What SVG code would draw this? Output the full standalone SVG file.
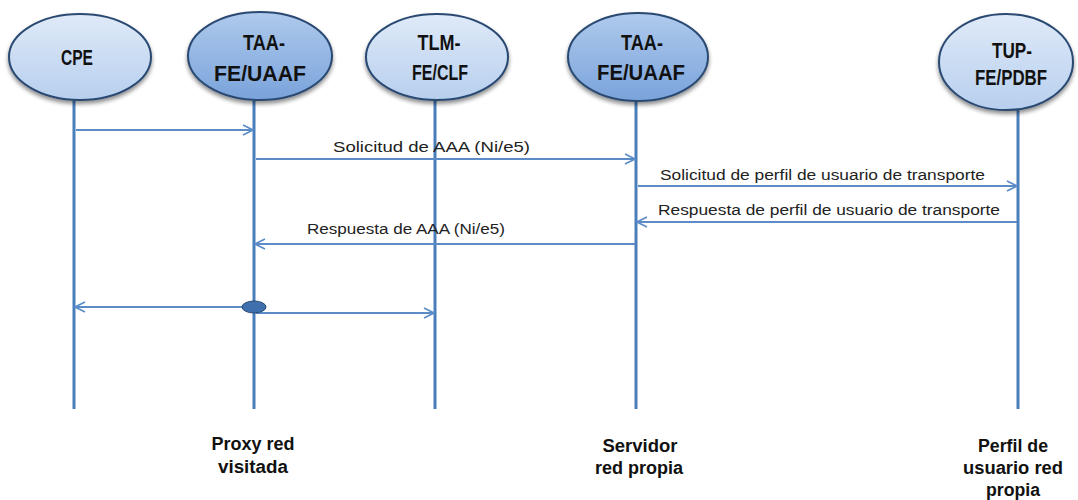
<svg xmlns="http://www.w3.org/2000/svg" width="1078" height="500" viewBox="0 0 1078 500">
<defs>
  <linearGradient id="gLight" x1="0" y1="0" x2="0" y2="1">
    <stop offset="0" stop-color="#dfeaf8"/>
    <stop offset="1" stop-color="#b7cfee"/>
  </linearGradient>
  <linearGradient id="gDark" x1="0" y1="0" x2="0" y2="1">
    <stop offset="0" stop-color="#afcaec"/>
    <stop offset="1" stop-color="#7aa3db"/>
  </linearGradient>
  <filter id="sh" x="-20%" y="-20%" width="140%" height="150%">
    <feGaussianBlur in="SourceAlpha" stdDeviation="2"/>
    <feOffset dx="0" dy="3" result="b"/>
    <feComponentTransfer><feFuncA type="linear" slope="0.45"/></feComponentTransfer>
    <feMerge><feMergeNode/><feMergeNode in="SourceGraphic"/></feMerge>
  </filter>
  <marker id="arr" viewBox="0 0 12 12" refX="11" refY="6" markerWidth="12" markerHeight="12" markerUnits="userSpaceOnUse" orient="auto">
    <path d="M1,1 L11,6 L1,11" fill="none" stroke="#5b8cc8" stroke-width="1.6"/>
  </marker>
</defs>
<style>
  .life { stroke: #4a7ebb; stroke-width: 3; fill: none; }
  .msg { stroke: #5b8cc8; stroke-width: 1.8; fill: none; marker-end: url(#arr); }
  .light { fill: url(#gLight); stroke: #2b4a72; stroke-width: 2; filter: url(#sh); }
  .dark { fill: url(#gDark); stroke: #2b4a72; stroke-width: 2; filter: url(#sh); }
  .nt { font-family: "Liberation Sans", Arial, sans-serif; font-weight: bold; font-size: 22px; fill: #111; text-anchor: middle; }
  .lbl { font-family: "Liberation Sans", Arial, sans-serif; font-size: 14px; fill: #222; }
  .bt { font-family: "Liberation Sans", Arial, sans-serif; font-weight: bold; font-size: 18px; fill: #111; text-anchor: middle; }
</style>

<g id="lifelines">
  <line class="life" x1="74" y1="100" x2="74" y2="409"/>
  <line class="life" x1="254" y1="100" x2="254" y2="409"/>
  <line class="life" x1="435" y1="100" x2="435" y2="409"/>
  <line class="life" x1="636" y1="100" x2="636" y2="409"/>
  <line class="life" x1="1018" y1="108" x2="1018" y2="409"/>
</g>

<g id="node-cpe">
  <ellipse class="light" cx="80" cy="57" rx="71" ry="43"/>
  <text class="nt" x="77" y="65" textLength="32" lengthAdjust="spacingAndGlyphs">CPE</text>
</g>
<g id="node-taa1">
  <ellipse class="dark" cx="260" cy="56" rx="72" ry="44"/>
  <text class="nt" x="264" y="50" textLength="42" lengthAdjust="spacingAndGlyphs">TAA-</text>
  <text class="nt" x="260" y="81" textLength="92" lengthAdjust="spacingAndGlyphs">FE/UAAF</text>
</g>
<g id="node-tlm">
  <ellipse class="light" cx="437" cy="57" rx="71" ry="43"/>
  <text class="nt" x="439" y="50" textLength="43" lengthAdjust="spacingAndGlyphs">TLM-</text>
  <text class="nt" x="440" y="80" textLength="56" lengthAdjust="spacingAndGlyphs">FE/CLF</text>
</g>
<g id="node-taa2">
  <ellipse class="dark" cx="638" cy="57" rx="70" ry="44"/>
  <text class="nt" x="642" y="50" textLength="42" lengthAdjust="spacingAndGlyphs">TAA-</text>
  <text class="nt" x="641" y="80" textLength="88" lengthAdjust="spacingAndGlyphs">FE/UAAF</text>
</g>
<g id="node-tup">
  <ellipse class="light" cx="1006" cy="62" rx="67" ry="48"/>
  <text class="nt" x="1012" y="58" textLength="40" lengthAdjust="spacingAndGlyphs">TUP-</text>
  <text class="nt" x="1011" y="85" textLength="72" lengthAdjust="spacingAndGlyphs">FE/PDBF</text>
</g>

<g id="connectors">
  <line class="msg" x1="76" y1="130" x2="253" y2="130"/>
  <line class="msg" x1="256" y1="159" x2="635" y2="159"/>
  <line class="msg" x1="638" y1="186" x2="1017" y2="186"/>
  <line class="msg" x1="1017" y1="222" x2="637" y2="222"/>
  <line class="msg" x1="635" y1="244" x2="255" y2="244"/>
  <line class="msg" x1="252" y1="307" x2="75" y2="307"/>
  <line class="msg" x1="256" y1="313" x2="434" y2="313"/>
  <ellipse cx="254" cy="307" rx="12" ry="6" fill="#3f6fad" stroke="#2b4a72" stroke-width="1"/>
  <text class="lbl" x="333" y="152" textLength="197" lengthAdjust="spacingAndGlyphs">Solicitud de AAA (Ni/e5)</text>
  <text class="lbl" x="660" y="180" textLength="325" lengthAdjust="spacingAndGlyphs">Solicitud de perfil de usuario de transporte</text>
  <text class="lbl" x="658" y="215" textLength="342" lengthAdjust="spacingAndGlyphs">Respuesta de  perfil de usuario de transporte</text>
  <text class="lbl" x="307" y="234" textLength="198" lengthAdjust="spacingAndGlyphs">Respuesta de AAA (Ni/e5)</text>
</g>

<g id="bottom-labels">
  <text class="bt" x="253" y="450" textLength="83" lengthAdjust="spacingAndGlyphs">Proxy red</text>
  <text class="bt" x="253" y="473" textLength="70" lengthAdjust="spacingAndGlyphs">visitada</text>
  <text class="bt" x="640" y="452" textLength="75" lengthAdjust="spacingAndGlyphs">Servidor</text>
  <text class="bt" x="639" y="474" textLength="88" lengthAdjust="spacingAndGlyphs">red propia</text>
  <text class="bt" x="1013" y="452" textLength="70" lengthAdjust="spacingAndGlyphs">Perfil de</text>
  <text class="bt" x="1013" y="474" textLength="100" lengthAdjust="spacingAndGlyphs">usuario red</text>
  <text class="bt" x="1013" y="496" textLength="54" lengthAdjust="spacingAndGlyphs">propia</text>
</g>
</svg>
